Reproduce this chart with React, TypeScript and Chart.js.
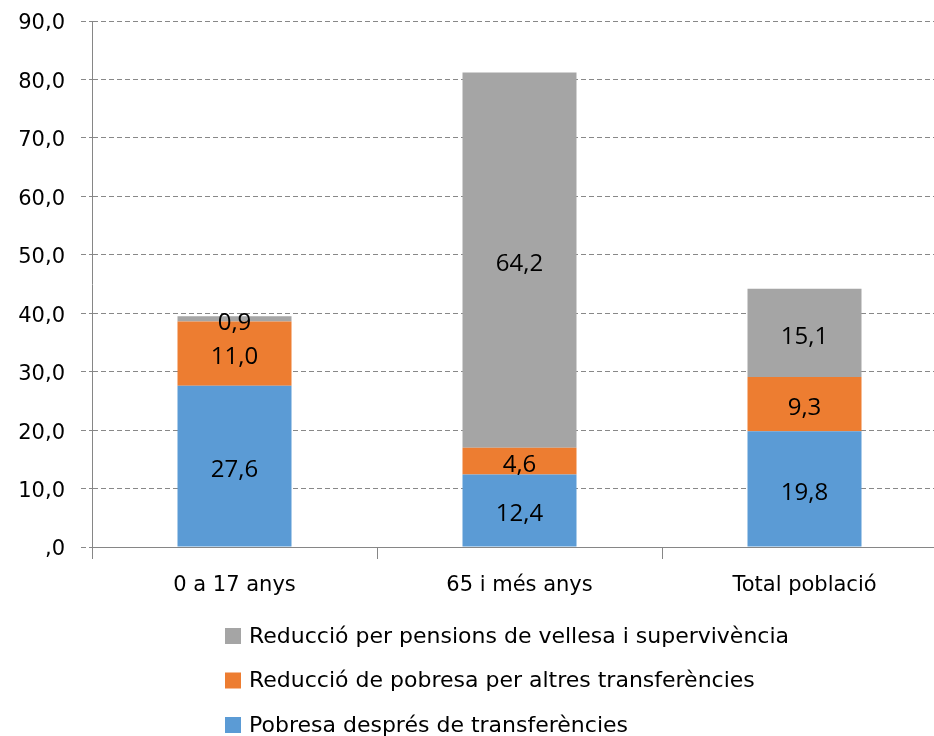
import React, { useEffect, useRef } from "react";
import { Chart, registerables } from "chart.js";

Chart.register(...registerables);

const categories = ["0 a 17 anys", "65 i més anys", "Total població"];
const seriesNames = [
  "Pobresa després de transferències",
  "Reducció de pobresa per altres transferències",
  "Reducció per pensions de vellesa i supervivència",
];
const afterTransfers = [27.6, 12.4, 19.8];
const otherTransfers = [11.0, 4.6, 9.3];
const pensions = [0.9, 64.2, 15.1];
const seriesColors = ["#5B9BD5", "#ED7D31", "#A5A5A5"];
const yMin = 0;
const yMax = 90;
const yStep = 10;

const W = 960;
const H = 736;

const fmtTick = (v: number) => (v === 0 ? ",0" : v.toFixed(1).replace(".", ","));
const fmtLabel = (v: number) => v.toFixed(1).replace(".", ",");

const dataLabelPlugin = {
  id: "dataLabelPlugin",
  afterDatasetsDraw(chart: any) {
    const ctx = chart.ctx;
    ctx.save();
    ctx.font = "24px 'Open Sans'";
    ctx.fillStyle = "#000";
    ctx.textAlign = "center";
    ctx.textBaseline = "middle";
    chart.data.datasets.forEach((ds: any, di: number) => {
      const meta = chart.getDatasetMeta(di);
      meta.data.forEach((el: any, i: number) => {
        const y = (el.y + el.base) / 2;
        ctx.fillText(fmtLabel(ds.data[i]), el.x, y + 4);
      });
    });
    ctx.restore();
  },
};

const customLegendPlugin = {
  id: "customLegendPlugin",
  afterDraw(chart: any) {
    const ctx = chart.ctx;
    ctx.save();
    ctx.font = "22px 'DejaVu Sans'";
    ctx.textAlign = "left";
    ctx.textBaseline = "middle";
    const n = chart.data.datasets.length;
    const x0 = 225;
    const yStart = 636;
    const gap = 44.5;
    for (let k = 0; k < n; k++) {
      const di = n - 1 - k;
      const ds = chart.data.datasets[di];
      const yc = yStart + k * gap;
      ctx.fillStyle = ds.backgroundColor;
      ctx.fillRect(x0, yc - 8, 16, 16);
      ctx.fillStyle = "#000";
      ctx.fillText(ds.label, x0 + 24, yc + 1);
    }
    ctx.restore();
  },
};

export default function App() {
  const ref = useRef<HTMLCanvasElement>(null);
  useEffect(() => {
    const canvas = ref.current;
    if (!canvas) return;
    const chart = new Chart(canvas, {
      type: "bar",
      data: {
        labels: categories,
        datasets: [
          { label: seriesNames[0], data: afterTransfers, backgroundColor: seriesColors[0] },
          { label: seriesNames[1], data: otherTransfers, backgroundColor: seriesColors[1] },
          { label: seriesNames[2], data: pensions, backgroundColor: seriesColors[2] },
        ],
      },
      options: {
        responsive: false,
        animation: false,
        devicePixelRatio: 1,
        layout: { padding: { left: 0, right: W - 947, top: 21, bottom: H - 547 - 60 } },
        datasets: { bar: { categoryPercentage: 1, barPercentage: 0.4 } },
        plugins: {
          legend: { display: false },
          tooltip: { enabled: false },
        },
        scales: {
          x: {
            stacked: true,
            afterFit: (s: any) => {
              s.height = 60;
              s.paddingLeft = 0;
              s.paddingRight = 0;
            },
            grid: {
              display: true,
              drawOnChartArea: false,
              drawTicks: true,
              tickLength: 12,
              color: "#868686",
              offset: true,
            },
            border: { display: true, color: "#868686", width: 1 },
            ticks: {
              font: { family: "'DejaVu Sans'", size: 21 },
              color: "#000",
              padding: 14,
              maxRotation: 0,
            },
          },
          y: {
            stacked: true,
            min: yMin,
            max: yMax,
            afterFit: (s: any) => {
              s.width = 92;
              s.paddingTop = 10;
              s.paddingBottom = 10;
            },
            grid: {
              color: "#888888",
              lineWidth: 1,
              tickLength: 11,
              tickBorderDash: [5, 3],
            },
            border: { display: true, color: "#868686", width: 1, dash: [5, 3] },
            ticks: {
              stepSize: yStep,
              font: { family: "'DejaVu Sans'", size: 21 },
              color: "#000",
              padding: 16,
              labelOffset: 3,
              callback: (v: any) => fmtTick(Number(v)),
            },
          },
        },
      },
      plugins: [dataLabelPlugin, customLegendPlugin],
    } as any);
    return () => chart.destroy();
  }, []);
  return (
    <div style={{ position: "fixed", left: 0, top: 0, width: W, height: H }}>
      <canvas ref={ref} width={W} height={H} style={{ display: "block", width: W, height: H }} />
    </div>
  );
}
